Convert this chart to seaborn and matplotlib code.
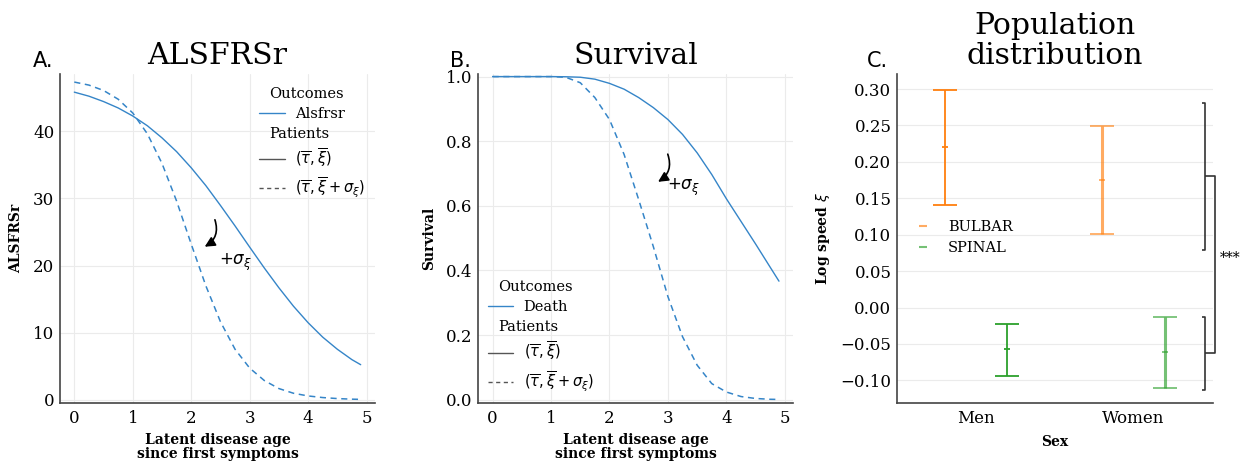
import numpy as np
import pandas as pd
import matplotlib
matplotlib.use("Agg")
import matplotlib.pyplot as plt
from matplotlib.lines import Line2D
import seaborn as sns

# ---------------- data ----------------
age = [0.0, 0.25, 0.5, 0.75, 1.0, 1.25, 1.5, 1.75, 2.0, 2.25, 2.5, 2.75,
       3.0, 3.25, 3.5, 3.75, 4.0, 4.25, 4.5, 4.75, 4.9]
alsfrs_mean = [45.8, 45.2, 44.4, 43.45, 42.25, 40.8, 39.0, 36.95, 34.55, 31.9,
               28.95, 25.9, 22.75, 19.65, 16.7, 13.95, 11.5, 9.35, 7.55, 6.0, 5.25]
alsfrs_fast = [47.3, 46.85, 46.05, 44.75, 42.7, 39.6, 35.2, 29.6, 23.2, 17.0,
               11.65, 7.55, 4.75, 2.9, 1.7, 1.0, 0.6, 0.36, 0.21, 0.12, 0.09]
surv_mean = [1.0, 1.0, 1.0, 1.0, 1.0, 0.9995, 0.998, 0.992, 0.979, 0.961, 0.935,
             0.904, 0.867, 0.821, 0.764, 0.697, 0.622, 0.552, 0.482, 0.41, 0.367]
surv_fast = [1.0, 1.0, 1.0, 1.0, 1.0, 0.998, 0.981, 0.935, 0.867, 0.759, 0.619,
             0.474, 0.319, 0.195, 0.107, 0.05, 0.024, 0.01, 0.004, 0.0015, 0.001]

sex = ["Men", "Women"]
bulbar_mean = [0.221, 0.175]
bulbar_low = [0.141, 0.101]
bulbar_high = [0.299, 0.249]
spinal_mean = [-0.057, -0.061]
spinal_low = [-0.094, -0.110]
spinal_high = [-0.022, -0.013]
bracket_bulbar = [0.079, 0.281]
bracket_spinal = [-0.1125, -0.0128]
signif = "***"

# ---------------- style ----------------
sns.set_theme(style="whitegrid")
plt.rcParams["font.family"] = ["DejaVu Serif"]
plt.rcParams["mathtext.fontset"] = "dejavusans"
plt.rcParams["axes.edgecolor"] = "#444444"
plt.rcParams["axes.linewidth"] = 1.2
plt.rcParams["grid.color"] = "#ebebeb"
plt.rcParams["grid.linewidth"] = 0.8
for k in ["text.color", "axes.labelcolor", "xtick.labelcolor", "ytick.labelcolor",
          "axes.titlecolor"]:
    plt.rcParams[k] = "black"

BLUE = "#3585c8"
ORANGE = "#ff7f0e"
GREEN = "#2ca02c"
TICK_FS = 12
LAB_FS = 10
TITLE_FS = 21.5
LEG_FS = 10.5

fig = plt.figure(figsize=(12.47, 4.65), dpi=100)
W, H = 1247, 465


def add_ax(l, r, t=74, b=403):
    return fig.add_axes([l / W, 1 - b / H, (r - l) / W, (b - t) / H])


axA = add_ax(60, 375)
axB = add_ax(478, 793)
axC = add_ax(897, 1213)


def style(ax):
    for s in ["top", "right"]:
        ax.spines[s].set_visible(False)
    ax.tick_params(direction="in", length=4, width=1, color="#333333",
                   labelsize=TICK_FS)
    ax.tick_params(axis="x", pad=5)
    ax.tick_params(axis="y", pad=4)


def header_legend(ax, handles, labels, headers, **kw):
    leg = ax.legend(handles, labels, **kw)
    col = leg._legend_handle_box.get_children()[0]
    for i, row in enumerate(col.get_children()):
        if i in headers:
            row.get_children()[0].width = 0
    return leg


df_line = pd.DataFrame({"age": age, "alsfrs_mean": alsfrs_mean,
                        "alsfrs_fast": alsfrs_fast, "surv_mean": surv_mean,
                        "surv_fast": surv_fast})

arrow_kw = dict(arrowstyle="-|>", connectionstyle="arc3,rad=-0.45",
                color="black", lw=1.2, mutation_scale=15)

# ---------------- Panel A ----------------
sns.lineplot(data=df_line, x="age", y="alsfrs_mean", ax=axA, color=BLUE, lw=1.0)
sns.lineplot(data=df_line, x="age", y="alsfrs_fast", ax=axA, color=BLUE, lw=1.1,
             linestyle=(0, (4, 3)))
axA.set_xlim(-0.245, 5.145)
axA.set_ylim(-0.45, 48.5)
axA.set_xticks([0, 1, 2, 3, 4, 5])
axA.set_yticks([0, 10, 20, 30, 40])
style(axA)
axA.set_title("ALSFRSr", fontsize=TITLE_FS, pad=7)
axA.set_xlabel("Latent disease age\nsince first symptoms", fontsize=LAB_FS,
               fontweight="bold", linespacing=1.05, labelpad=4)
axA.set_ylabel("ALSFRSr", fontsize=LAB_FS, fontweight="bold", labelpad=7)
axA.annotate("", xy=(2.19, 22.6), xytext=(2.39, 27.2), arrowprops=arrow_kw)
axA.text(2.47, 20.4, r"$+\sigma_\xi$", fontsize=12, va="center", ha="left")

hA = [Line2D([], [], ls="none"), Line2D([], [], color=BLUE, lw=1.0),
      Line2D([], [], ls="none"), Line2D([], [], color="#555555", lw=1.0),
      Line2D([], [], color="#555555", lw=1.0, ls=(0, (3, 2.5)))]
lA = ["Outcomes", "Alsfrsr", "Patients", r"$(\overline{\tau}, \overline{\xi})$",
      r"$(\overline{\tau}, \overline{\xi} + \sigma_\xi)$"]
header_legend(axA, hA, lA, {0, 2}, loc="upper right", bbox_to_anchor=(1.01, 1.0),
              frameon=False, fontsize=LEG_FS, handlelength=1.75, handletextpad=0.7,
              labelspacing=0.4)

# ---------------- Panel B ----------------
sns.lineplot(data=df_line, x="age", y="surv_mean", ax=axB, color=BLUE, lw=1.0)
sns.lineplot(data=df_line, x="age", y="surv_fast", ax=axB, color=BLUE, lw=1.1,
             linestyle=(0, (4, 3)))
axB.set_xlim(-0.25, 5.14)
axB.set_ylim(-0.01, 1.008)
axB.set_xticks([0, 1, 2, 3, 4, 5])
axB.set_yticks([0.0, 0.2, 0.4, 0.6, 0.8, 1.0])
axB.set_yticklabels(["0.0", "0.2", "0.4", "0.6", "0.8", "1.0"])
style(axB)
axB.set_title("Survival", fontsize=TITLE_FS, pad=7)
axB.set_xlabel("Latent disease age\nsince first symptoms", fontsize=LAB_FS,
               fontweight="bold", linespacing=1.05, labelpad=4)
axB.set_ylabel("Survival", fontsize=LAB_FS, fontweight="bold", labelpad=7)
axB.annotate("", xy=(2.79, 0.670), xytext=(2.98, 0.768), arrowprops=arrow_kw)
axB.text(2.985, 0.657, r"$+\sigma_\xi$", fontsize=12, va="center", ha="left")
hB = [Line2D([], [], ls="none"), Line2D([], [], color=BLUE, lw=1.0),
      Line2D([], [], ls="none"), Line2D([], [], color="#555555", lw=1.0),
      Line2D([], [], color="#555555", lw=1.0, ls=(0, (3, 2.5)))]
lB = ["Outcomes", "Death", "Patients", r"$(\overline{\tau}, \overline{\xi})$",
      r"$(\overline{\tau}, \overline{\xi} + \sigma_\xi)$"]
header_legend(axB, hB, lB, {0, 2}, loc="lower left", bbox_to_anchor=(-0.01, -0.012),
              frameon=False, fontsize=LEG_FS, handlelength=1.75, handletextpad=0.7,
              labelspacing=0.42)

# ---------------- Panel C ----------------
xpos = np.arange(len(sex))
off = 0.2
for i in range(len(sex)):
    alpha = 1.0 if i == 0 else 0.65
    lw = 1.3 if i == 0 else 2.2
    for means, lows, highs, col, d in [(bulbar_mean, bulbar_low, bulbar_high, ORANGE, -off),
                                       (spinal_mean, spinal_low, spinal_high, GREEN, off)]:
        m = means[i]
        axC.errorbar([xpos[i] + d], [m],
                     yerr=[[m - lows[i]], [highs[i] - m]],
                     fmt="_", ms=5, mew=1.3, color=col, ecolor=col, alpha=alpha,
                     elinewidth=lw, capsize=8.5, capthick=lw)
axC.set_xlim(-0.502, 1.507)
axC.set_ylim(-0.131, 0.3206)
axC.set_xticks(xpos)
axC.set_xticklabels(sex)
axC.set_yticks([-0.10, -0.05, 0.0, 0.05, 0.10, 0.15, 0.20, 0.25, 0.30])
axC.set_yticklabels(["\u22120.10", "\u22120.05", "0.00", "0.05", "0.10", "0.15",
                     "0.20", "0.25", "0.30"])
style(axC)
axC.grid(False, axis="x")
axC.set_title("Population\ndistribution", fontsize=TITLE_FS, pad=7, linespacing=1.12)
axC.set_xlabel("Sex", fontsize=LAB_FS, fontweight="bold", labelpad=6)
axC.set_ylabel(r"Log speed $\xi$", fontsize=LAB_FS, fontweight="bold", labelpad=6)

# significance brackets
bk = dict(color="#333333", lw=1.2, clip_on=False, solid_capstyle="butt")
xin, xin_t = 1.456, 1.434
xout = 1.519
mids = []
for lo, hi in [bracket_bulbar, bracket_spinal]:
    axC.plot([xin_t, xin, xin, xin_t], [hi, hi, lo, lo], **bk)
    mids.append((lo + hi) / 2)
axC.plot([xin, xout, xout, xin], [mids[0], mids[0], mids[1], mids[1]], **bk)
axC.text(1.615, (mids[0] + mids[1]) / 2 + 0.01, signif, fontsize=10,
         ha="center", va="center", clip_on=False)

hC = [Line2D([], [], ls="none", marker="_", ms=6, mew=1.5, color=ORANGE, alpha=0.65),
      Line2D([], [], ls="none", marker="_", ms=6, mew=1.5, color=GREEN, alpha=0.65)]
axC.legend(hC, ["BULBAR", "SPINAL"], loc="center left", bbox_to_anchor=(0.058, 0.503),
           frameon=False, fontsize=LEG_FS, handlelength=1.0, handletextpad=1.25,
           borderaxespad=0, borderpad=0, labelspacing=0.45)

# panel letters
for x, lab in [(33, "A."), (450, "B."), (867, "C.")]:
    fig.text(x / W, 1 - 67 / H, lab, fontsize=15, family="DejaVu Sans",
             va="baseline", ha="left")

fig.savefig("out.png", dpi=100)
